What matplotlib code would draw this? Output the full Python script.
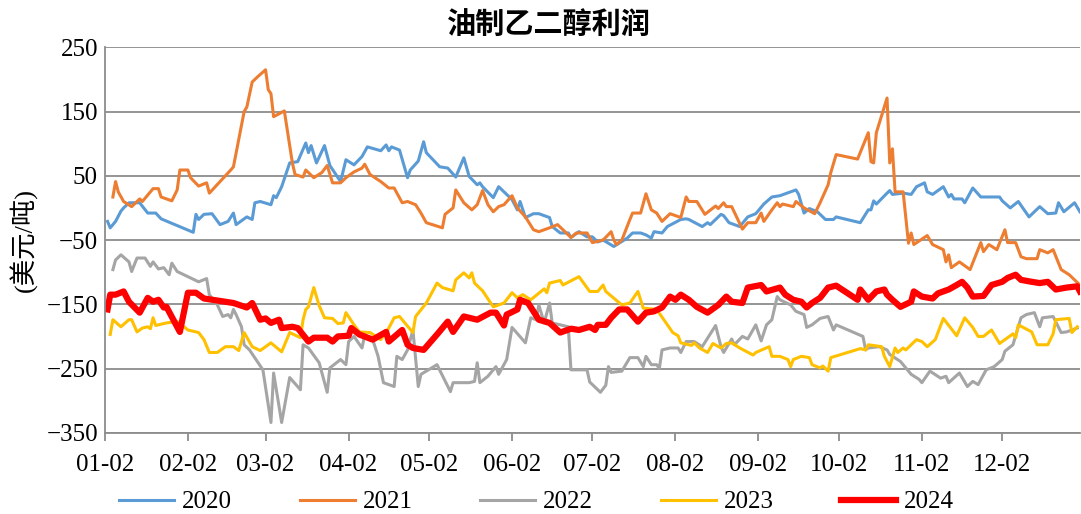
import numpy as np
import pandas as pd
import matplotlib
matplotlib.use("Agg")
import matplotlib.pyplot as plt
import matplotlib.dates as mdates

# 天数 = 距 01-02 的天数（以闰年 2024 为基准排布各年份）
days_2020 = [1, 2, 4, 6, 7, 9, 13, 16, 19, 21, 33, 34, 35, 37, 40, 43, 46, 48, 49, 53, 55, 56, 58, 62, 63, 64, 66, 69, 72, 75,
             76, 77, 79, 82, 84, 88, 90, 93, 96, 98, 103, 105, 106, 107, 110, 113, 114, 117, 119, 120, 125, 128, 131, 134, 136, 139,
             140, 141, 145, 147, 150, 152, 154, 155, 157, 160, 162, 166, 167, 170, 173, 174, 177, 180, 182, 184, 186, 190, 195, 197,
             200, 202, 204, 205, 208, 210, 215, 217, 218, 223, 225, 226, 230, 231, 233, 237, 240, 243, 246, 249, 252, 258, 259, 261,
             263, 266, 269, 272, 273, 282, 285, 286, 287, 288, 292, 293, 294, 298, 301, 303, 306, 307, 309, 313, 315, 316, 317, 320,
             321, 324, 327, 334, 335, 338, 341, 345, 349, 352, 355, 356, 358, 362, 364]
vals_2020 = [-21, -31, -21, -5, 0, 8, 8, -8, -8, -17, -38, -10, -18, -10, -9, -26, -21, -8, -26, -14, -18, 8, 10, 5, 19, 16, 33, 70, 72, 101,
             86, 97, 70, 97, 66, 41, 75, 67, 80, 95, 89, 98, 89, 95, 90, 47, 59, 73, 103, 86, 64, 62, 48, 78, 49, 36,
             39, 33, 16, 33, 21, 13, -3, 10, -15, -9, -9, -15, -29, -39, -39, -46, -37, -45, -45, -53, -50, -60, -47, -39,
             -39, -42, -47, -37, -39, -29, -18, -17, -18, -29, -23, -26, -10, -12, -23, -29, -14, -9, 6, 17, 19, 28, 21, -8,
             -1, -6, -18, -18, -14, -23, -3, -3, 11, 6, 23, 27, 21, 23, 21, 33, 39, 25, 21, 33, 17, 21, 14, 14,
             8, 31, 17, 17, 11, 0, 10, -14, 2, -9, -8, 8, -6, 8, -6]

days_2021 = [3, 4, 5, 7, 10, 12, 13, 14, 17, 18, 20, 21, 25, 27, 28, 31, 32, 35, 38, 39, 47, 48, 52, 53, 55, 57, 60, 61, 62, 63,
             67, 70, 71, 74, 75, 78, 81, 83, 85, 88, 90, 93, 96, 97, 99, 103, 106, 108, 111, 113, 116, 118, 120, 126, 127, 130,
             131, 134, 137, 139, 141, 143, 145, 147, 149, 152, 154, 157, 160, 162, 166, 169, 174, 176, 180, 182, 186, 189, 190,
             191, 193, 196, 197, 200, 202, 204, 206, 208, 211, 215, 217, 218, 221, 224, 228, 229, 231, 232, 234, 238, 240, 243,
             245, 246, 249, 251, 252, 253, 257, 258, 261, 265, 267, 270, 271, 273, 281, 285, 286, 287, 288, 292, 293, 294, 295,
             298, 300, 301, 302, 307, 309, 313, 314, 315, 316, 319, 323, 327, 328, 330, 333, 336, 337, 340, 342, 344, 348, 349,
             352, 354, 357, 360, 362, 364]
vals_2021 = [17, 41, 25, 10, 2, 10, 14, 10, 25, 30, 30, 17, 11, 28, 59, 59, 47, 34, 39, 23, 59, 64, 150, 157, 196, 204, 215, 184, 178, 142,
             151, 70, 52, 48, 59, 47, 55, 66, 39, 39, 47, 56, 62, 68, 52, 41, 31, 31, 8, 10, 5, -8, -23, -31, -10, 0,
             28, 8, -3, 5, 27, 5, -6, 2, 5, 19, 0, -14, -34, -37, -31, -26, -46, -39, -39, -54, -50, -37, -50,
             -57, -50, -18, -8, -8, 22, -3, -8, -21, -9, -15, 17, 10, 10, -10, 3, -1, 8, 2, 2, -33, -23, -23,
             -8, -21, -3, 8, 2, 6, 2, 10, 0, -9, 8, 36, 55, 83, 76, 117, 72, 70, 117, 171, 70, 92, 25,
             25, -55, -39, -57, -43, -57, -65, -84, -73, -93, -84, -96, -54, -68, -57, -65, -34, -54, -54, -76, -79, -79, -65,
             -70, -65, -96, -104, -112, -120]

days_2022 = [3, 4, 6, 9, 10, 12, 15, 17, 18, 20, 22, 24, 25, 27, 35, 38, 39, 42, 44, 46, 47, 48, 49, 51, 52, 54, 59, 62, 63, 66,
             69, 73, 74, 76, 80, 83, 84, 88, 90, 91, 93, 96, 97, 100, 102, 104, 108, 109, 111, 113, 115, 117, 118, 124, 129, 130,
             133, 136, 138, 139, 140, 143, 146, 147, 150, 152, 157, 159, 161, 162, 164, 166, 167, 173, 174, 177, 180, 181, 185,
             187, 188, 189, 193, 196, 199, 201, 202, 204, 206, 207, 208, 211, 214, 215, 217, 220, 223, 228, 230, 231, 234, 235,
             238, 240, 243, 245, 247, 249, 251, 252, 256, 258, 261, 262, 264, 267, 270, 272, 273, 283, 284, 285, 289, 292, 293,
             297, 301, 304, 305, 308, 312, 314, 315, 319, 322, 324, 326, 329, 332, 335, 336, 339, 342, 344, 347, 349, 350, 354,
             357, 359, 361, 363]
vals_2022 = [-96, -81, -73, -84, -99, -78, -78, -91, -84, -95, -93, -104, -86, -99, -115, -110, -135, -151, -169, -166, -171, -158, -166, -185, -213, -221, -252, -334, -257, -334,
             -264, -283, -213, -218, -241, -287, -249, -236, -244, -208, -200, -218, -198, -205, -231, -272, -278, -231, -236, -221, -190, -278, -259, -244, -286, -272,
             -272, -272, -270, -241, -272, -262, -247, -259, -236, -186, -210, -171, -174, -151, -179, -148, -179, -185, -252, -252, -252, -271, -287,
             -276, -247, -256, -254, -233, -233, -247, -231, -244, -244, -250, -221, -218, -218, -225, -208, -208, -216, -183, -216, -225, -204, -213,
             -200, -204, -182, -207, -182, -174, -138, -143, -151, -161, -166, -186, -182, -172, -169, -190, -182, -200, -221, -218, -216, -221, -228,
             -239, -259, -267, -272, -254, -265, -262, -272, -257, -278, -270, -275, -252, -247, -236, -223, -213, -171, -166, -163, -185, -171, -169,
             -194, -193, -190, -187]

days_2023 = [2, 3, 6, 9, 10, 12, 14, 16, 17, 18, 19, 23, 27, 29, 31, 35, 37, 39, 42, 45, 48, 50, 52, 55, 58, 62, 66, 69, 73, 74,
             75, 76, 78, 80, 82, 85, 87, 89, 90, 93, 95, 99, 103, 106, 108, 110, 111, 115, 116, 120, 124, 126, 130, 131, 134, 136,
             137, 138, 141, 145, 149, 152, 154, 156, 159, 164, 165, 166, 170, 171, 177, 181, 184, 186, 187, 193, 196, 199, 201,
             206, 212, 214, 215, 219, 220, 222, 225, 227, 230, 232, 234, 237, 242, 243, 248, 249, 252, 255, 256, 257, 260, 263,
             264, 267, 268, 270, 271, 282, 284, 285, 290, 291, 293, 295, 296, 298, 299, 303, 305, 307, 310, 313, 318, 321, 324,
             326, 328, 331, 334, 339, 340, 341, 346, 348, 352, 354, 355, 360, 361, 363]
vals_2023 = [-197, -174, -185, -174, -174, -193, -187, -185, -188, -171, -183, -179, -177, -183, -190, -194, -205, -225, -225, -216, -216, -222, -194, -216, -222, -210, -224, -194, -202, -174,
             -158, -154, -124, -152, -171, -172, -180, -179, -163, -182, -193, -194, -205, -187, -171, -169, -174, -194, -169, -148, -117, -124, -129, -112, -101, -109,
             -101, -117, -129, -154, -148, -132, -140, -135, -143, -126, -132, -117, -113, -120, -107, -130, -130, -120, -130, -151, -148, -130, -156,
             -158, -194, -199, -210, -214, -210, -218, -225, -211, -218, -211, -210, -218, -229, -225, -216, -231, -231, -236, -247, -236, -231, -233,
             -244, -249, -246, -254, -233, -219, -221, -213, -216, -231, -247, -218, -225, -218, -221, -205, -208, -216, -205, -172, -199, -171, -186,
             -200, -200, -190, -211, -196, -202, -182, -193, -213, -213, -196, -174, -172, -194, -185]

days_2024 = [1, 2, 4, 7, 9, 13, 16, 18, 20, 22, 23, 28, 31, 34, 37, 48, 53, 55, 58, 60, 62, 65, 66, 70, 72, 76, 78, 83, 85, 87,
             91, 92, 95, 100, 105, 106, 111, 113, 115, 119, 124, 128, 130, 134, 139, 144, 146, 149, 150, 154, 155, 158, 162, 166,
             170, 174, 177, 181, 183, 184, 187, 189, 192, 195, 199, 202, 205, 208, 211, 213, 215, 218, 221, 225, 229, 232, 234,
             238, 240, 245, 247, 252, 254, 257, 260, 262, 264, 267, 270, 273, 277, 281, 282, 285, 288, 291, 292, 294, 297, 301,
             302, 305, 309, 311, 315, 318, 320, 322, 324, 328, 331, 335, 337, 340, 342, 346, 349, 352, 355, 359, 363, 364]
vals_2024 = [-158, -135, -135, -130, -146, -163, -140, -146, -143, -155, -154, -193, -132, -132, -141, -148, -155, -148, -174, -172, -179, -174, -187, -185, -187, -208, -202, -202, -208, -200,
             -199, -187, -197, -205, -193, -208, -190, -213, -218, -221, -197, -177, -193, -169, -174, -163, -163, -183, -166, -158, -143, -148, -174, -179,
             -194, -188, -190, -185, -190, -182, -182, -171, -158, -158, -177, -163, -161, -155, -138, -143, -135, -143, -154, -163, -151, -138, -146,
             -148, -124, -120, -130, -124, -135, -143, -146, -155, -148, -140, -124, -121, -132, -143, -127, -143, -130, -127, -135, -143, -154, -146,
             -130, -138, -141, -133, -127, -120, -115, -124, -138, -137, -120, -115, -109, -104, -112, -115, -117, -115, -127, -124, -122, -130]

series = [
    ("2020", days_2020, vals_2020, "#5B9BD5", 2.2),
    ("2021", days_2021, vals_2021, "#ED7D31", 2.2),
    ("2022", days_2022, vals_2022, "#A5A5A5", 2.2),
    ("2023", days_2023, vals_2023, "#FFC000", 2.2),
    ("2024", days_2024, vals_2024, "#FF0000", 4.5),
]

plt.rcParams["font.family"] = ["Liberation Serif", "Noto Sans CJK SC"]

fig = plt.figure(figsize=(10.81, 5.14), dpi=100)
ax = fig.add_axes([0.097, 0.158, 0.902, 0.750])

base = pd.Timestamp("2024-01-02")
for name, d, v, color, lw in series:
    x = base + pd.to_timedelta(d, unit="D")
    ax.plot(x, v, color=color, lw=lw, label=name, solid_joinstyle="round")

ax.set_ylim(-350, 250)
ax.set_yticks(np.arange(-350, 251, 100))
ax.set_xlim(pd.Timestamp("2024-01-02"), pd.Timestamp("2024-12-31"))
ax.xaxis.set_major_locator(mdates.MonthLocator(bymonthday=2))
ax.xaxis.set_major_formatter(mdates.DateFormatter("%m-%d"))

ax.grid(axis="y", color="#8C8C8C", lw=1.3)
ax.set_axisbelow(True)
for s in ["top", "right"]:
    ax.spines[s].set_visible(False)
for s in ["left", "bottom"]:
    ax.spines[s].set_color("#8C8C8C")
    ax.spines[s].set_linewidth(1.3)
ax.tick_params(axis="y", length=0, labelsize=18, pad=5)
ax.tick_params(axis="x", length=6, width=1.3, color="#8C8C8C", labelsize=18, pad=9)

ax.set_ylabel("(美元/吨)", fontsize=19, labelpad=6)
fig.text(0.508, 0.951, "油制乙二醇利润", ha="center", va="center", fontsize=21,
         fontweight="bold", family=["Noto Sans CJK SC"])

fig.legend(loc="center left", ncol=5, bbox_to_anchor=(119 / 1081, 1 - 502 / 514), frameon=False,
           fontsize=18, handlelength=2.2, columnspacing=2.7, handletextpad=0.32,
           borderpad=0, borderaxespad=0)

fig.savefig("out.png", dpi=100)
